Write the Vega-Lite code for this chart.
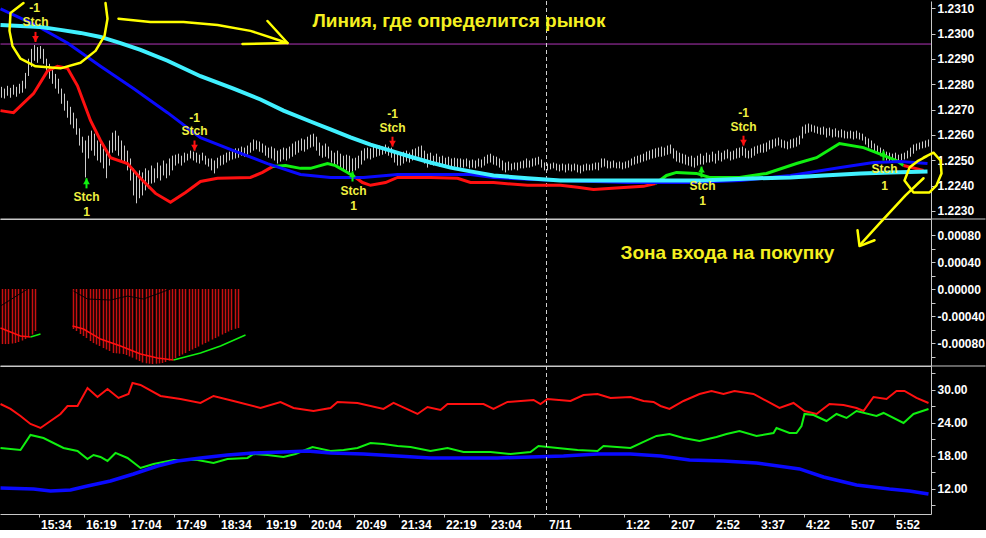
{
  "$schema": "https://vega.github.io/schema/vega-lite/v6.json",
  "description": "EUR/USD 3-min chart with moving averages, Stch signals, MACD-style histogram and ADX/DMI panel",
  "background": "#000000",
  "padding": 0,
  "spacing": 0,
  "bounds": "flush",
  "config": {
    "view": {"stroke": null},
    "axis": {"domainColor": "#c8c8c8", "tickColor": "#c8c8c8", "labelColor": "#ffffff", "labelFont": "Liberation Sans", "labelFontWeight": "bold", "labelFontSize": 12, "grid": false, "labelFlush": false, "labelOverlap": false, "labelBound": false}
  },
  "resolve": {"scale": {"x": "independent", "y": "independent"}},
  "datasets": {
    "bars": [
      {"m":1,"h":1.2279,"l":1.22747},{"m":4,"h":1.22783,"l":1.22744},{"m":7,"h":1.22794,"l":1.22755},{"m":10,"h":1.22786,"l":1.22747},
      {"m":13,"h":1.22798,"l":1.22759},{"m":16,"h":1.2279,"l":1.22751},{"m":19,"h":1.22802,"l":1.22763},{"m":22,"h":1.22814,"l":1.22767},
      {"m":25,"h":1.22845,"l":1.22783},{"m":28,"h":1.22901,"l":1.22833},{"m":31,"h":1.2294,"l":1.22869},{"m":34,"h":1.22955,"l":1.22893},
      {"m":37,"h":1.22947,"l":1.22885},{"m":40,"h":1.22951,"l":1.22901},{"m":43,"h":1.2294,"l":1.22881},{"m":46,"h":1.22901,"l":1.22845},
      {"m":49,"h":1.22881,"l":1.22822},{"m":52,"h":1.22862,"l":1.22802},{"m":55,"h":1.22841,"l":1.22783},{"m":58,"h":1.22822,"l":1.22763},
      {"m":61,"h":1.22783,"l":1.22723},{"m":64,"h":1.22763,"l":1.22696},{"m":67,"h":1.22735,"l":1.22668},{"m":70,"h":1.22711,"l":1.22641},
      {"m":73,"h":1.22688,"l":1.22626},{"m":76,"h":1.22665,"l":1.22601},{"m":79,"h":1.22626,"l":1.22558},{"m":82,"h":1.22593,"l":1.2253},
      {"m":85,"h":1.22578,"l":1.22432},{"m":88,"h":1.22597,"l":1.22507},{"m":91,"h":1.22617,"l":1.22538},{"m":94,"h":1.22605,"l":1.22518},
      {"m":97,"h":1.22578,"l":1.22499},{"m":100,"h":1.22566,"l":1.22491},{"m":103,"h":1.22547,"l":1.22468},{"m":106,"h":1.2253,"l":1.22429},
      {"m":109,"h":1.22578,"l":1.22479},{"m":112,"h":1.22609,"l":1.2253},{"m":115,"h":1.22617,"l":1.22538},{"m":118,"h":1.22597,"l":1.22518},
      {"m":121,"h":1.22578,"l":1.22499},{"m":124,"h":1.22558,"l":1.22487},{"m":127,"h":1.22538,"l":1.2246},{"m":130,"h":1.22507,"l":1.2242},
      {"m":133,"h":1.22468,"l":1.22361},{"m":136,"h":1.22452,"l":1.2233},{"m":139,"h":1.2246,"l":1.2235},{"m":142,"h":1.22452,"l":1.22361},
      {"m":145,"h":1.22468,"l":1.22381},{"m":148,"h":1.2246,"l":1.22389},{"m":151,"h":1.22479,"l":1.22408},{"m":154,"h":1.22468,"l":1.22412},
      {"m":157,"h":1.22491,"l":1.22429},{"m":160,"h":1.22479,"l":1.2242},{"m":163,"h":1.22499,"l":1.2244},{"m":166,"h":1.22487,"l":1.22429},
      {"m":169,"h":1.22507,"l":1.2244},{"m":172,"h":1.22518,"l":1.2246},{"m":175,"h":1.22522,"l":1.22479},{"m":178,"h":1.22526,"l":1.22487},
      {"m":181,"h":1.22518,"l":1.22479},{"m":184,"h":1.2253,"l":1.22491},{"m":187,"h":1.22526,"l":1.22499},{"m":190,"h":1.22538,"l":1.22507},
      {"m":193,"h":1.22534,"l":1.22499},{"m":196,"h":1.2253,"l":1.22491},{"m":199,"h":1.22522,"l":1.22487},{"m":202,"h":1.2253,"l":1.22499},
      {"m":205,"h":1.22518,"l":1.22483},{"m":208,"h":1.22507,"l":1.22475},{"m":211,"h":1.22507,"l":1.2246},{"m":214,"h":1.22499,"l":1.22448},
      {"m":217,"h":1.2251,"l":1.22468},{"m":220,"h":1.22518,"l":1.22479},{"m":223,"h":1.22522,"l":1.22483},{"m":226,"h":1.2253,"l":1.22491},
      {"m":229,"h":1.22534,"l":1.22499},{"m":232,"h":1.22538,"l":1.22503},{"m":235,"h":1.22547,"l":1.22507},{"m":238,"h":1.22547,"l":1.2251},
      {"m":241,"h":1.22554,"l":1.22518},{"m":244,"h":1.2255,"l":1.22514},{"m":247,"h":1.22558,"l":1.22522},{"m":250,"h":1.2257,"l":1.2253},
      {"m":253,"h":1.22582,"l":1.22538},{"m":256,"h":1.22578,"l":1.22543},{"m":259,"h":1.22574,"l":1.22534},{"m":262,"h":1.22566,"l":1.2253},
      {"m":265,"h":1.22558,"l":1.22518},{"m":268,"h":1.2255,"l":1.2251},{"m":271,"h":1.22554,"l":1.22507},{"m":274,"h":1.22547,"l":1.22499},
      {"m":277,"h":1.22538,"l":1.22487},{"m":280,"h":1.22543,"l":1.22495},{"m":283,"h":1.2255,"l":1.22503},{"m":286,"h":1.22547,"l":1.22499},
      {"m":289,"h":1.22554,"l":1.22507},{"m":292,"h":1.22566,"l":1.22514},{"m":295,"h":1.22574,"l":1.22522},{"m":298,"h":1.22578,"l":1.2253},
      {"m":301,"h":1.22586,"l":1.22538},{"m":304,"h":1.22582,"l":1.22534},{"m":307,"h":1.22593,"l":1.22543},{"m":310,"h":1.22601,"l":1.2255},
      {"m":313,"h":1.22605,"l":1.22554},{"m":316,"h":1.22593,"l":1.22538},{"m":319,"h":1.2257,"l":1.22518},{"m":322,"h":1.22558,"l":1.2251},
      {"m":325,"h":1.22566,"l":1.22514},{"m":328,"h":1.22554,"l":1.22507},{"m":331,"h":1.22538,"l":1.22491},{"m":334,"h":1.2253,"l":1.22479},
      {"m":337,"h":1.22538,"l":1.22483},{"m":340,"h":1.22526,"l":1.22468},{"m":343,"h":1.22518,"l":1.2246},{"m":346,"h":1.22522,"l":1.2246},
      {"m":349,"h":1.22518,"l":1.22452},{"m":352,"h":1.22507,"l":1.22456},{"m":355,"h":1.2251,"l":1.2246},{"m":358,"h":1.22518,"l":1.22468},
      {"m":361,"h":1.22538,"l":1.22483},{"m":364,"h":1.22547,"l":1.22499},{"m":367,"h":1.2255,"l":1.22507},{"m":370,"h":1.22547,"l":1.22503},
      {"m":373,"h":1.22554,"l":1.2251},{"m":376,"h":1.2255,"l":1.22514},{"m":379,"h":1.22558,"l":1.22518},{"m":382,"h":1.22554,"l":1.22522},
      {"m":385,"h":1.22562,"l":1.22526},{"m":388,"h":1.22554,"l":1.22518},{"m":391,"h":1.2255,"l":1.2251},{"m":394,"h":1.22538,"l":1.22491},
      {"m":397,"h":1.2253,"l":1.22479},{"m":400,"h":1.22526,"l":1.22479},{"m":403,"h":1.22534,"l":1.22487},{"m":406,"h":1.22538,"l":1.22495},
      {"m":409,"h":1.2253,"l":1.22491},{"m":412,"h":1.22543,"l":1.22499},{"m":415,"h":1.22547,"l":1.22507},{"m":418,"h":1.22554,"l":1.22514},
      {"m":421,"h":1.22558,"l":1.2251},{"m":424,"h":1.22538,"l":1.22487},{"m":427,"h":1.22526,"l":1.22471},{"m":430,"h":1.2253,"l":1.22483},
      {"m":433,"h":1.22518,"l":1.22479},{"m":436,"h":1.22526,"l":1.22487},{"m":439,"h":1.22514,"l":1.22475},{"m":442,"h":1.22518,"l":1.22479},
      {"m":445,"h":1.2251,"l":1.22475},{"m":448,"h":1.22514,"l":1.22479},{"m":451,"h":1.22507,"l":1.22471},{"m":454,"h":1.2251,"l":1.22475},
      {"m":457,"h":1.22507,"l":1.22471},{"m":460,"h":1.22507,"l":1.22471},{"m":463,"h":1.22503,"l":1.22471},{"m":466,"h":1.22507,"l":1.22475},
      {"m":469,"h":1.22499,"l":1.22468},{"m":472,"h":1.22503,"l":1.22471},{"m":475,"h":1.22499,"l":1.22468},{"m":478,"h":1.22507,"l":1.22475},
      {"m":481,"h":1.22503,"l":1.22471},{"m":484,"h":1.22514,"l":1.22479},{"m":487,"h":1.22522,"l":1.22487},{"m":490,"h":1.22526,"l":1.22491},
      {"m":493,"h":1.22518,"l":1.22483},{"m":496,"h":1.22514,"l":1.22479},{"m":499,"h":1.22507,"l":1.22471},{"m":502,"h":1.22499,"l":1.2246},
      {"m":505,"h":1.22491,"l":1.22452},{"m":508,"h":1.22495,"l":1.2246},{"m":511,"h":1.22487,"l":1.2246},{"m":514,"h":1.22491,"l":1.22464},
      {"m":517,"h":1.22491,"l":1.2246},{"m":520,"h":1.22495,"l":1.22468},{"m":523,"h":1.22499,"l":1.22468},{"m":526,"h":1.22507,"l":1.22471},
      {"m":529,"h":1.22499,"l":1.22471},{"m":532,"h":1.22507,"l":1.22475},{"m":535,"h":1.2251,"l":1.22479},{"m":538,"h":1.22514,"l":1.22483},
      {"m":541,"h":1.22503,"l":1.22471},{"m":544,"h":1.22491,"l":1.2246},{"m":547,"h":1.22487,"l":1.2246},{"m":550,"h":1.22487,"l":1.22464},
      {"m":553,"h":1.22491,"l":1.22468},{"m":556,"h":1.22487,"l":1.2246},{"m":559,"h":1.22483,"l":1.22456},{"m":562,"h":1.22487,"l":1.2246},
      {"m":565,"h":1.22483,"l":1.22452},{"m":568,"h":1.22487,"l":1.2246},{"m":571,"h":1.22483,"l":1.22456},{"m":574,"h":1.22487,"l":1.2246},
      {"m":577,"h":1.22483,"l":1.22452},{"m":580,"h":1.22479,"l":1.22448},{"m":583,"h":1.22483,"l":1.22456},{"m":586,"h":1.22487,"l":1.2246},
      {"m":589,"h":1.22483,"l":1.2246},{"m":592,"h":1.22487,"l":1.2246},{"m":595,"h":1.22491,"l":1.22464},{"m":598,"h":1.22491,"l":1.2246},
      {"m":601,"h":1.22507,"l":1.22471},{"m":604,"h":1.22507,"l":1.22475},{"m":607,"h":1.22499,"l":1.22468},{"m":610,"h":1.22495,"l":1.22468},
      {"m":613,"h":1.22499,"l":1.22471},{"m":616,"h":1.22491,"l":1.22468},{"m":619,"h":1.22495,"l":1.22468},{"m":622,"h":1.22491,"l":1.22464},
      {"m":625,"h":1.22495,"l":1.22468},{"m":628,"h":1.22499,"l":1.22471},{"m":631,"h":1.22507,"l":1.22479},{"m":634,"h":1.22514,"l":1.22483},
      {"m":637,"h":1.22518,"l":1.22487},{"m":640,"h":1.22522,"l":1.22491},{"m":643,"h":1.22526,"l":1.22495},{"m":646,"h":1.22534,"l":1.22499},
      {"m":649,"h":1.22538,"l":1.22503},{"m":652,"h":1.22543,"l":1.22507},{"m":655,"h":1.22547,"l":1.2251},{"m":658,"h":1.2255,"l":1.22514},
      {"m":661,"h":1.22554,"l":1.22514},{"m":664,"h":1.2255,"l":1.22518},{"m":667,"h":1.22558,"l":1.22522},{"m":670,"h":1.22562,"l":1.22526},
      {"m":673,"h":1.22547,"l":1.22507},{"m":676,"h":1.22538,"l":1.22495},{"m":679,"h":1.2253,"l":1.22491},{"m":682,"h":1.22526,"l":1.22487},
      {"m":685,"h":1.22522,"l":1.22483},{"m":688,"h":1.22514,"l":1.22479},{"m":691,"h":1.22518,"l":1.22475},{"m":694,"h":1.2251,"l":1.22471},
      {"m":697,"h":1.22518,"l":1.22479},{"m":700,"h":1.22526,"l":1.22483},{"m":703,"h":1.22518,"l":1.22483},{"m":706,"h":1.2253,"l":1.22491},
      {"m":709,"h":1.22522,"l":1.22491},{"m":712,"h":1.22534,"l":1.22495},{"m":715,"h":1.22526,"l":1.22487},{"m":718,"h":1.22538,"l":1.22499},
      {"m":721,"h":1.2253,"l":1.22495},{"m":724,"h":1.22538,"l":1.22503},{"m":727,"h":1.22543,"l":1.22507},{"m":730,"h":1.22534,"l":1.22499},
      {"m":733,"h":1.22538,"l":1.22503},{"m":736,"h":1.22547,"l":1.22507},{"m":739,"h":1.2255,"l":1.2251},{"m":742,"h":1.22554,"l":1.22518},
      {"m":745,"h":1.22547,"l":1.2251},{"m":748,"h":1.22538,"l":1.22507},{"m":751,"h":1.22547,"l":1.2251},{"m":754,"h":1.22554,"l":1.22518},
      {"m":757,"h":1.22558,"l":1.22526},{"m":760,"h":1.22562,"l":1.2253},{"m":763,"h":1.22566,"l":1.2253},{"m":766,"h":1.2257,"l":1.22534},
      {"m":769,"h":1.22578,"l":1.22543},{"m":772,"h":1.22582,"l":1.22547},{"m":775,"h":1.22586,"l":1.22554},{"m":778,"h":1.2259,"l":1.22558},
      {"m":781,"h":1.22582,"l":1.2255},{"m":784,"h":1.22578,"l":1.22547},{"m":787,"h":1.22574,"l":1.22543},{"m":790,"h":1.22582,"l":1.22547},
      {"m":793,"h":1.22586,"l":1.2255},{"m":796,"h":1.2259,"l":1.22554},{"m":799,"h":1.22597,"l":1.22562},{"m":802,"h":1.22633,"l":1.22586},
      {"m":805,"h":1.22641,"l":1.22605},{"m":808,"h":1.22645,"l":1.22609},{"m":811,"h":1.22641,"l":1.22613},{"m":814,"h":1.22637,"l":1.22609},
      {"m":817,"h":1.22633,"l":1.22605},{"m":820,"h":1.22629,"l":1.22601},{"m":823,"h":1.22633,"l":1.22601},{"m":826,"h":1.22626,"l":1.2259},
      {"m":829,"h":1.22629,"l":1.22597},{"m":832,"h":1.22622,"l":1.2259},{"m":835,"h":1.22626,"l":1.22593},{"m":838,"h":1.22617,"l":1.2259},
      {"m":841,"h":1.22622,"l":1.2259},{"m":844,"h":1.22617,"l":1.22586},{"m":847,"h":1.22613,"l":1.22586},{"m":850,"h":1.22617,"l":1.22586},
      {"m":853,"h":1.22613,"l":1.22582},{"m":856,"h":1.22617,"l":1.22586},{"m":859,"h":1.22609,"l":1.22582},{"m":862,"h":1.22605,"l":1.22578},
      {"m":865,"h":1.22593,"l":1.22562},{"m":868,"h":1.22586,"l":1.2255},{"m":871,"h":1.22578,"l":1.22547},{"m":874,"h":1.22566,"l":1.2253},
      {"m":877,"h":1.22558,"l":1.22526},{"m":880,"h":1.2255,"l":1.22518},{"m":883,"h":1.22543,"l":1.2251},{"m":886,"h":1.22534,"l":1.22499},
      {"m":889,"h":1.2253,"l":1.22495},{"m":892,"h":1.22526,"l":1.22491},{"m":895,"h":1.2253,"l":1.22499},{"m":898,"h":1.22522,"l":1.22495},
      {"m":901,"h":1.22526,"l":1.22499},{"m":904,"h":1.2253,"l":1.22503},{"m":907,"h":1.22538,"l":1.22507},{"m":910,"h":1.2255,"l":1.22514},
      {"m":913,"h":1.22562,"l":1.22526},{"m":916,"h":1.22566,"l":1.22538},{"m":919,"h":1.2257,"l":1.22543},{"m":922,"h":1.22574,"l":1.22547},
      {"m":925,"h":1.22578,"l":1.2255},{"m":928,"h":1.22582,"l":1.22554}
    ],
    "ma": [
      {"s":"cyan","m":0,"p":1.23034},{"s":"cyan","m":20,"p":1.2303},{"s":"cyan","m":40,"p":1.23026},{"s":"cyan","m":60,"p":1.23015},
      {"s":"cyan","m":80,"p":1.23003},{"s":"cyan","m":100,"p":1.22987},{"s":"cyan","m":120,"p":1.22963},{"s":"cyan","m":140,"p":1.22936},
      {"s":"cyan","m":167,"p":1.22893},{"s":"cyan","m":200,"p":1.22832},{"s":"cyan","m":233,"p":1.22783},{"s":"cyan","m":260,"p":1.2274},
      {"s":"cyan","m":283,"p":1.22696},{"s":"cyan","m":310,"p":1.22653},{"s":"cyan","m":330,"p":1.22622},{"s":"cyan","m":350,"p":1.2259},
      {"s":"cyan","m":370,"p":1.22562},{"s":"cyan","m":390,"p":1.22538},{"s":"cyan","m":410,"p":1.22514},{"s":"cyan","m":430,"p":1.22491},
      {"s":"cyan","m":450,"p":1.22471},{"s":"cyan","m":470,"p":1.22456},{"s":"cyan","m":493,"p":1.2244},{"s":"cyan","m":527,"p":1.22429},
      {"s":"cyan","m":560,"p":1.2242},{"s":"cyan","m":600,"p":1.2242},{"s":"cyan","m":650,"p":1.2242},{"s":"cyan","m":700,"p":1.2242},
      {"s":"cyan","m":757,"p":1.22429},{"s":"cyan","m":790,"p":1.22432},{"s":"cyan","m":823,"p":1.2244},{"s":"cyan","m":860,"p":1.22448},
      {"s":"cyan","m":890,"p":1.22452},{"s":"cyan","m":927,"p":1.22456},
      {"s":"blue","m":0,"p":1.23098},{"s":"blue","m":33,"p":1.23038},{"s":"blue","m":67,"p":1.22963},{"s":"blue","m":100,"p":1.22871},
      {"s":"blue","m":133,"p":1.22783},{"s":"blue","m":167,"p":1.22688},{"s":"blue","m":200,"p":1.22589},{"s":"blue","m":233,"p":1.22538},
      {"s":"blue","m":267,"p":1.22487},{"s":"blue","m":300,"p":1.22444},{"s":"blue","m":330,"p":1.22432},{"s":"blue","m":363,"p":1.22432},
      {"s":"blue","m":397,"p":1.22444},{"s":"blue","m":430,"p":1.22444},{"s":"blue","m":470,"p":1.22444},{"s":"blue","m":493,"p":1.22432},
      {"s":"blue","m":527,"p":1.22425},{"s":"blue","m":560,"p":1.2242},{"s":"blue","m":627,"p":1.22412},{"s":"blue","m":690,"p":1.22412},
      {"s":"blue","m":740,"p":1.2242},{"s":"blue","m":790,"p":1.2244},{"s":"blue","m":840,"p":1.22471},{"s":"blue","m":873,"p":1.22491},
      {"s":"blue","m":900,"p":1.22495},{"s":"blue","m":927,"p":1.22487}
    ],
    "rg": [
      {"g":"r1","c":"r","m":0,"p":1.22696},{"g":"r1","c":"r","m":13,"p":1.22688},{"g":"r1","c":"r","m":33,"p":1.22763},{"g":"r1","c":"r","m":47,"p":1.22853},
      {"g":"r1","c":"r","m":57,"p":1.22871},{"g":"r1","c":"r","m":67,"p":1.22863},{"g":"r1","c":"r","m":77,"p":1.22794},{"g":"r1","c":"r","m":90,"p":1.22657},
      {"g":"r1","c":"r","m":100,"p":1.22578},{"g":"r1","c":"r","m":110,"p":1.2251},{"g":"r1","c":"r","m":127,"p":1.22487},{"g":"r1","c":"r","m":140,"p":1.22429},
      {"g":"r1","c":"r","m":155,"p":1.22369},{"g":"r1","c":"r","m":170,"p":1.22334},{"g":"r1","c":"r","m":185,"p":1.22373},{"g":"r1","c":"r","m":200,"p":1.22416},
      {"g":"r1","c":"r","m":217,"p":1.22429},{"g":"r1","c":"r","m":250,"p":1.22432},{"g":"r1","c":"r","m":262,"p":1.22452},{"g":"r1","c":"r","m":272,"p":1.22475},
      {"g":"g1","c":"g","m":272,"p":1.22475},{"g":"g1","c":"g","m":285,"p":1.22479},{"g":"g1","c":"g","m":300,"p":1.22468},{"g":"g1","c":"g","m":310,"p":1.22468},
      {"g":"g1","c":"g","m":327,"p":1.22487},{"g":"g1","c":"g","m":335,"p":1.22479},{"g":"g1","c":"g","m":347,"p":1.22452},{"g":"g1","c":"g","m":355,"p":1.22432},
      {"g":"r2","c":"r","m":355,"p":1.22432},{"g":"r2","c":"r","m":362,"p":1.22412},{"g":"r2","c":"r","m":370,"p":1.22401},{"g":"r2","c":"r","m":385,"p":1.22412},
      {"g":"r2","c":"r","m":397,"p":1.22432},{"g":"r2","c":"r","m":430,"p":1.22432},{"g":"r2","c":"r","m":457,"p":1.22429},{"g":"r2","c":"r","m":470,"p":1.22412},
      {"g":"r2","c":"r","m":493,"p":1.22412},{"g":"r2","c":"r","m":527,"p":1.22401},{"g":"r2","c":"r","m":560,"p":1.22401},{"g":"r2","c":"r","m":577,"p":1.22393},
      {"g":"r2","c":"r","m":593,"p":1.22385},{"g":"r2","c":"r","m":627,"p":1.22393},{"g":"r2","c":"r","m":643,"p":1.22397},{"g":"r2","c":"r","m":655,"p":1.22408},
      {"g":"g2","c":"g","m":655,"p":1.22408},{"g":"g2","c":"g","m":666,"p":1.2244},{"g":"g2","c":"g","m":676,"p":1.22452},{"g":"g2","c":"g","m":696,"p":1.22448},
      {"g":"g2","c":"g","m":709,"p":1.22432},{"g":"g2","c":"g","m":739,"p":1.22432},{"g":"g2","c":"g","m":766,"p":1.22448},{"g":"g2","c":"g","m":796,"p":1.22487},
      {"g":"g2","c":"g","m":816,"p":1.2251},{"g":"g2","c":"g","m":839,"p":1.22566},{"g":"g2","c":"g","m":863,"p":1.2255},{"g":"g2","c":"g","m":876,"p":1.2253},
      {"g":"g2","c":"g","m":896,"p":1.22499},{"g":"g2","c":"g","m":903,"p":1.22479},
      {"g":"r3","c":"r","m":903,"p":1.22479},{"g":"r3","c":"r","m":923,"p":1.2246}
    ],
    "sig": [
      {"m":35,"tip":1.22967,"tail":1.23007,"c":"r"},{"m":194,"tip":1.22538,"tail":1.22578,"c":"r"},
      {"m":392,"tip":1.22554,"tail":1.22593,"c":"r"},{"m":743,"tip":1.22558,"tail":1.22597,"c":"r"},
      {"m":86,"tip":1.22429,"tail":1.22389,"c":"g"},{"m":352,"tip":1.22456,"tail":1.22416,"c":"g"},
      {"m":701,"tip":1.22475,"tail":1.22432,"c":"g"},{"m":883,"tip":1.22538,"tail":1.22499,"c":"g"}
    ],
    "lbl": [
      {"m":34,"p":1.23101,"t":"-1"},{"m":35,"p":1.23046,"t":"Stch"},
      {"m":194,"p":1.22668,"t":"-1"},{"m":194,"p":1.22617,"t":"Stch"},
      {"m":392,"p":1.22684,"t":"-1"},{"m":392,"p":1.22629,"t":"Stch"},
      {"m":743,"p":1.22688,"t":"-1"},{"m":743,"p":1.22633,"t":"Stch"},
      {"m":86,"p":1.22353,"t":"Stch"},{"m":86,"p":1.22294,"t":"1"},
      {"m":353,"p":1.22377,"t":"Stch"},{"m":353,"p":1.22318,"t":"1"},
      {"m":702,"p":1.22397,"t":"Stch"},{"m":702,"p":1.22338,"t":"1"},
      {"m":884,"p":1.22464,"t":"Stch"},{"m":884,"p":1.22397,"t":"1"}
    ],
    "ink": [
      {"s":"c1","o":1,"m":23,"p":1.23121},{"s":"c1","o":2,"m":10,"p":1.23082},{"s":"c1","o":3,"m":9,"p":1.23011},{"s":"c1","o":4,"m":12,"p":1.22951},
      {"s":"c1","o":5,"m":20,"p":1.22901},{"s":"c1","o":6,"m":35,"p":1.22871},{"s":"c1","o":7,"m":60,"p":1.22863},{"s":"c1","o":8,"m":80,"p":1.22885},
      {"s":"c1","o":9,"m":95,"p":1.22932},{"s":"c1","o":10,"m":104,"p":1.22991},{"s":"c1","o":11,"m":107,"p":1.23059},{"s":"c1","o":12,"m":105,"p":1.23121},
      {"s":"a1","o":1,"m":118,"p":1.23059},{"s":"a1","o":2,"m":150,"p":1.23046},{"s":"a1","o":3,"m":183,"p":1.23046},{"s":"a1","o":4,"m":217,"p":1.23034},
      {"s":"a1","o":5,"m":250,"p":1.23011},{"s":"a1","o":6,"m":287,"p":1.22963},
      {"s":"a1h","o":1,"m":267,"p":1.2305},{"s":"a1h","o":2,"m":287,"p":1.22963},{"s":"a1h","o":3,"m":242,"p":1.22959},
      {"s":"c2","o":1,"m":923,"p":1.2251},{"s":"c2","o":2,"m":933,"p":1.2253},{"s":"c2","o":3,"m":940,"p":1.22499},{"s":"c2","o":4,"m":941,"p":1.22448},
      {"s":"c2","o":5,"m":936,"p":1.22401},{"s":"c2","o":6,"m":929,"p":1.22373},{"s":"c2","o":7,"m":913,"p":1.22373},{"s":"c2","o":8,"m":904,"p":1.2242},
      {"s":"c2","o":9,"m":909,"p":1.22471},{"s":"c2","o":10,"m":918,"p":1.22499},{"s":"c2","o":11,"m":926,"p":1.22515},
      {"s":"a2","o":1,"m":923,"p":1.22429},{"s":"a2","o":2,"m":905,"p":1.22361},{"s":"a2","o":3,"m":880,"p":1.22255},{"s":"a2","o":4,"m":860,"p":1.22168},
      {"s":"a2h","o":1,"m":857,"p":1.22224},{"s":"a2h","o":2,"m":859,"p":1.22161},{"s":"a2h","o":3,"m":874,"p":1.22184}
    ],
    "hist": [
      {"m":2,"v":-0.000815},{"m":5,"v":-0.000815},{"m":8,"v":-0.000815},{"m":12,"v":-0.000807},{"m":15,"v":-0.0008},{"m":18,"v":-0.000785},
      {"m":22,"v":-0.000763},{"m":25,"v":-0.000741},{"m":28,"v":-0.000711},{"m":32,"v":-0.000674},{"m":35,"v":-0.000622},
      {"m":73,"v":-0.000592},{"m":76,"v":-0.000622},{"m":80,"v":-0.000666},{"m":83,"v":-0.000696},{"m":86,"v":-0.000726},{"m":90,"v":-0.00077},
      {"m":93,"v":-0.0008},{"m":96,"v":-0.000822},{"m":99,"v":-0.000844},{"m":103,"v":-0.000874},{"m":106,"v":-0.000896},{"m":109,"v":-0.000918},
      {"m":113,"v":-0.000948},{"m":116,"v":-0.000952},{"m":119,"v":-0.000957},{"m":123,"v":-0.000963},{"m":126,"v":-0.000977},{"m":129,"v":-0.000998},
      {"m":132,"v":-0.001016},{"m":136,"v":-0.001044},{"m":139,"v":-0.001066},{"m":142,"v":-0.001089},{"m":146,"v":-0.0011},{"m":149,"v":-0.001105},
      {"m":152,"v":-0.001111},{"m":156,"v":-0.001106},{"m":159,"v":-0.001102},{"m":162,"v":-0.001096},{"m":165,"v":-0.001081},{"m":169,"v":-0.00106},
      {"m":172,"v":-0.001043},{"m":175,"v":-0.001022},{"m":179,"v":-0.000992},{"m":182,"v":-0.00097},{"m":185,"v":-0.000948},{"m":189,"v":-0.000918},
      {"m":192,"v":-0.000896},{"m":195,"v":-0.000874},{"m":198,"v":-0.000852},{"m":202,"v":-0.000822},{"m":205,"v":-0.0008},{"m":208,"v":-0.000778},
      {"m":212,"v":-0.000748},{"m":215,"v":-0.000726},{"m":218,"v":-0.000703},{"m":222,"v":-0.000674},{"m":225,"v":-0.000652},{"m":228,"v":-0.000629},
      {"m":231,"v":-0.000607},{"m":235,"v":-0.000589},{"m":238,"v":-0.000578}
    ],
    "blk": [
      {"g":"L","m":0,"v":-0.000252},{"g":"L","m":27,"v":0},
      {"g":"R","m":73,"v":-0.00003},{"g":"R","m":87,"v":-0.000148},{"g":"R","m":110,"v":-0.000163},{"g":"R","m":127,"v":-0.000104},
      {"g":"R","m":143,"v":-0.000148},{"g":"R","m":170,"v":0}
    ],
    "sigm": [
      {"g":"L1","c":"r","m":0,"v":-0.000578},{"g":"L1","c":"r","m":10,"v":-0.000637},{"g":"L1","c":"r","m":20,"v":-0.000696},{"g":"L1","c":"r","m":30,"v":-0.000711},
      {"g":"L2","c":"g","m":30,"v":-0.000711},{"g":"L2","c":"g","m":40,"v":-0.000666},
      {"g":"R1","c":"r","m":72,"v":-0.000548},{"g":"R1","c":"r","m":83,"v":-0.000592},{"g":"R1","c":"r","m":100,"v":-0.000741},{"g":"R1","c":"r","m":120,"v":-0.000844},
      {"g":"R1","c":"r","m":140,"v":-0.000963},{"g":"R1","c":"r","m":157,"v":-0.001022},{"g":"R1","c":"r","m":173,"v":-0.001052},
      {"g":"R2","c":"g","m":173,"v":-0.001052},{"g":"R2","c":"g","m":200,"v":-0.000948},{"g":"R2","c":"g","m":220,"v":-0.000844},{"g":"R2","c":"g","m":245,"v":-0.000681}
    ],
    "osc": [
      {"s":"red","m":0,"v":27.45},{"s":"red","m":10,"v":26.55},{"s":"red","m":20,"v":25.27},{"s":"red","m":30,"v":23.82},{"s":"red","m":40,"v":23.09},
      {"s":"red","m":50,"v":24.36},{"s":"red","m":60,"v":25.64},{"s":"red","m":67,"v":27.09},{"s":"red","m":77,"v":27.09},{"s":"red","m":87,"v":30.36},
      {"s":"red","m":97,"v":28.73},{"s":"red","m":107,"v":30.18},{"s":"red","m":118,"v":28.55},{"s":"red","m":128,"v":29.27},{"s":"red","m":132,"v":31.27},
      {"s":"red","m":140,"v":30.91},{"s":"red","m":160,"v":28.91},{"s":"red","m":180,"v":28.36},{"s":"red","m":200,"v":27.64},{"s":"red","m":213,"v":28.91},
      {"s":"red","m":233,"v":28.0},{"s":"red","m":260,"v":26.73},{"s":"red","m":280,"v":27.82},{"s":"red","m":293,"v":26.73},{"s":"red","m":313,"v":26.18},
      {"s":"red","m":330,"v":26.73},{"s":"red","m":337,"v":27.82},{"s":"red","m":357,"v":27.64},{"s":"red","m":383,"v":26.55},{"s":"red","m":393,"v":27.64},
      {"s":"red","m":417,"v":25.64},{"s":"red","m":427,"v":26.91},{"s":"red","m":440,"v":26.36},{"s":"red","m":447,"v":27.45},{"s":"red","m":483,"v":27.45},
      {"s":"red","m":493,"v":26.55},{"s":"red","m":507,"v":27.82},{"s":"red","m":533,"v":28.18},{"s":"red","m":540,"v":27.45},{"s":"red","m":547,"v":28.36},
      {"s":"red","m":570,"v":28.0},{"s":"red","m":583,"v":29.09},{"s":"red","m":597,"v":29.27},{"s":"red","m":610,"v":28.55},{"s":"red","m":630,"v":28.73},
      {"s":"red","m":643,"v":28.0},{"s":"red","m":653,"v":27.82},{"s":"red","m":660,"v":27.09},{"s":"red","m":669,"v":26.55},{"s":"red","m":683,"v":28.0},
      {"s":"red","m":699,"v":29.27},{"s":"red","m":711,"v":29.82},{"s":"red","m":723,"v":29.27},{"s":"red","m":734,"v":29.82},{"s":"red","m":753,"v":29.27},
      {"s":"red","m":766,"v":28.0},{"s":"red","m":779,"v":26.73},{"s":"red","m":793,"v":27.64},{"s":"red","m":804,"v":26.18},{"s":"red","m":816,"v":25.64},
      {"s":"red","m":829,"v":27.45},{"s":"red","m":843,"v":27.27},{"s":"red","m":856,"v":26.73},{"s":"red","m":863,"v":26.18},{"s":"red","m":873,"v":28.73},
      {"s":"red","m":886,"v":28.36},{"s":"red","m":896,"v":29.82},{"s":"red","m":904,"v":29.82},{"s":"red","m":916,"v":28.55},{"s":"red","m":928,"v":27.64},
      {"s":"green","m":0,"v":19.45},{"s":"green","m":20,"v":19.09},{"s":"green","m":30,"v":21.82},{"s":"green","m":43,"v":21.27},{"s":"green","m":63,"v":19.45},
      {"s":"green","m":77,"v":18.91},{"s":"green","m":87,"v":17.45},{"s":"green","m":93,"v":18.18},{"s":"green","m":100,"v":17.82},{"s":"green","m":107,"v":17.09},
      {"s":"green","m":115,"v":18.55},{"s":"green","m":127,"v":17.64},{"s":"green","m":140,"v":15.82},{"s":"green","m":153,"v":16.55},{"s":"green","m":173,"v":17.27},
      {"s":"green","m":197,"v":17.27},{"s":"green","m":213,"v":16.73},{"s":"green","m":227,"v":17.45},{"s":"green","m":247,"v":17.64},{"s":"green","m":253,"v":18.36},
      {"s":"green","m":267,"v":18.18},{"s":"green","m":283,"v":17.82},{"s":"green","m":295,"v":18.36},{"s":"green","m":312,"v":19.64},{"s":"green","m":330,"v":18.91},
      {"s":"green","m":343,"v":19.09},{"s":"green","m":357,"v":19.45},{"s":"green","m":370,"v":20.36},{"s":"green","m":383,"v":20.18},{"s":"green","m":397,"v":19.82},
      {"s":"green","m":410,"v":19.64},{"s":"green","m":430,"v":18.91},{"s":"green","m":447,"v":19.45},{"s":"green","m":463,"v":18.73},{"s":"green","m":490,"v":18.73},
      {"s":"green","m":510,"v":18.36},{"s":"green","m":530,"v":18.73},{"s":"green","m":538,"v":19.82},{"s":"green","m":557,"v":19.45},{"s":"green","m":577,"v":19.09},
      {"s":"green","m":597,"v":18.91},{"s":"green","m":603,"v":19.82},{"s":"green","m":630,"v":19.45},{"s":"green","m":643,"v":20.55},{"s":"green","m":656,"v":21.64},
      {"s":"green","m":669,"v":22.0},{"s":"green","m":683,"v":21.27},{"s":"green","m":699,"v":20.73},{"s":"green","m":716,"v":21.45},{"s":"green","m":726,"v":22.0},
      {"s":"green","m":739,"v":22.55},{"s":"green","m":756,"v":21.64},{"s":"green","m":773,"v":22.18},{"s":"green","m":776,"v":23.09},{"s":"green","m":789,"v":22.18},
      {"s":"green","m":796,"v":22.18},{"s":"green","m":801,"v":23.45},{"s":"green","m":804,"v":25.64},{"s":"green","m":813,"v":25.45},{"s":"green","m":826,"v":24.36},
      {"s":"green","m":836,"v":25.64},{"s":"green","m":846,"v":24.91},{"s":"green","m":856,"v":26.18},{"s":"green","m":876,"v":25.27},{"s":"green","m":883,"v":25.82},
      {"s":"green","m":903,"v":24.0},{"s":"green","m":913,"v":25.64},{"s":"green","m":928,"v":26.55},
      {"s":"blue","m":0,"v":12.18},{"s":"blue","m":33,"v":12.0},{"s":"blue","m":50,"v":11.64},{"s":"blue","m":70,"v":11.82},{"s":"blue","m":87,"v":12.55},
      {"s":"blue","m":110,"v":13.45},{"s":"blue","m":133,"v":14.73},{"s":"blue","m":157,"v":16.18},{"s":"blue","m":177,"v":17.09},{"s":"blue","m":200,"v":17.64},
      {"s":"blue","m":227,"v":18.18},{"s":"blue","m":253,"v":18.55},{"s":"blue","m":283,"v":18.73},{"s":"blue","m":307,"v":18.91},{"s":"blue","m":330,"v":18.55},
      {"s":"blue","m":363,"v":18.36},{"s":"blue","m":397,"v":18.0},{"s":"blue","m":430,"v":17.64},{"s":"blue","m":497,"v":17.64},{"s":"blue","m":530,"v":17.82},
      {"s":"blue","m":563,"v":18.0},{"s":"blue","m":597,"v":18.36},{"s":"blue","m":630,"v":18.36},{"s":"blue","m":660,"v":18.0},{"s":"blue","m":689,"v":17.27},
      {"s":"blue","m":723,"v":17.09},{"s":"blue","m":756,"v":16.73},{"s":"blue","m":799,"v":15.64},{"s":"blue","m":823,"v":14.18},{"s":"blue","m":856,"v":12.73},
      {"s":"blue","m":889,"v":12.0},{"s":"blue","m":909,"v":11.64},{"s":"blue","m":928,"v":11.09}
    ]
  },
  "vconcat": [
    {
      "width": 931,
      "height": 218,
      "encoding": {
        "x": {"field": "m", "type": "quantitative", "title": null, "scale": {"domain": [-0.5, 930.5], "nice": false, "zero": false}, "axis": {"labels": false, "ticks": false, "domain": true}}
      },
      "layer": [
        {
          "data": {"name": "bars"},
          "mark": {"type": "rule", "color": "#cccccc", "strokeWidth": 1},
          "encoding": {
            "y": {"field": "h", "type": "quantitative", "title": null, "scale": {"domain": [1.22268, 1.23129], "nice": false, "zero": false},
                  "axis": {"orient": "right", "values": [1.223, 1.224, 1.225, 1.226, 1.227, 1.228, 1.229, 1.23, 1.231], "tickCount": 100, "format": ".4f", "tickSize": 4, "labelPadding": 2, "labelOverlap": false}},
            "y2": {"field": "l"}
          }
        },
        {
          "data": {"values": [{"m": 0, "m2": 985}]},
          "mark": {"type": "rule", "color": "#c8c8c8", "strokeWidth": 1, "clip": false},
          "encoding": {"x2": {"field": "m2"}, "y": {"datum": 1.22268}}
        },
        {
          "data": {"values": [{"m": 0, "p": 1.22959}, {"m": 931, "p": 1.22959}]},
          "mark": {"type": "line", "color": "#b035b8", "strokeWidth": 1, "clip": true},
          "encoding": {"y": {"field": "p", "type": "quantitative", "title": null}}
        },
        {
          "data": {"values": [{"m": 546}]},
          "mark": {"type": "rule", "color": "#d0d0d0", "strokeDash": [4, 3], "strokeWidth": 1},
          "encoding": {}
        },
        {
          "data": {"name": "rg"},
          "mark": {"type": "line", "strokeWidth": 3, "clip": true},
          "encoding": {
            "y": {"field": "p", "type": "quantitative", "title": null},
            "color": {"field": "c", "type": "nominal", "scale": {"domain": ["r", "g"], "range": ["#ff1010", "#10f010"]}, "legend": null},
            "detail": {"field": "g"}
          }
        },
        {
          "data": {"name": "ma"},
          "transform": [{"filter": "datum.s == 'blue'"}],
          "mark": {"type": "line", "color": "#0a0aff", "strokeWidth": 3, "clip": true},
          "encoding": {"y": {"field": "p", "type": "quantitative", "title": null}}
        },
        {
          "data": {"name": "ma"},
          "transform": [{"filter": "datum.s == 'cyan'"}],
          "mark": {"type": "line", "color": "#40f0ff", "strokeWidth": 4, "clip": true},
          "encoding": {"y": {"field": "p", "type": "quantitative", "title": null}}
        },
        {
          "data": {"name": "sig"},
          "mark": {"type": "rule", "strokeWidth": 2},
          "encoding": {
            "y": {"field": "tail", "type": "quantitative", "title": null},
            "y2": {"field": "tip"},
            "color": {"field": "c", "type": "nominal", "legend": null}
          }
        },
        {
          "data": {"name": "sig"},
          "transform": [{"filter": "datum.c == 'r'"}],
          "mark": {"type": "point", "shape": "triangle-down", "filled": true, "opacity": 1, "size": 45, "color": "#ff1010", "yOffset": -3},
          "encoding": {"y": {"field": "tip", "type": "quantitative", "title": null}}
        },
        {
          "data": {"name": "sig"},
          "transform": [{"filter": "datum.c == 'g'"}],
          "mark": {"type": "point", "shape": "triangle-up", "filled": true, "opacity": 1, "size": 45, "color": "#10f010", "yOffset": 3},
          "encoding": {"y": {"field": "tip", "type": "quantitative", "title": null}}
        },
        {
          "data": {"name": "lbl"},
          "mark": {"type": "text", "color": "#f0f040", "font": "Liberation Sans", "fontWeight": "bold", "fontSize": 12, "align": "center", "baseline": "middle"},
          "encoding": {"y": {"field": "p", "type": "quantitative", "title": null}, "text": {"field": "t"}}
        },
        {
          "data": {"values": [{"m": 312, "p": 1.2305, "t": "Линия, где определится рынок"}]},
          "mark": {"type": "text", "color": "#f5f020", "font": "Liberation Sans", "fontWeight": "bold", "fontSize": 19, "align": "left", "baseline": "middle"},
          "encoding": {"y": {"field": "p", "type": "quantitative", "title": null}, "text": {"field": "t"}}
        },
        {
          "data": {"name": "ink"},
          "mark": {"type": "line", "color": "#ffff00", "strokeWidth": 2.5, "clip": false, "strokeCap": "round", "strokeJoin": "round"},
          "encoding": {
            "y": {"field": "p", "type": "quantitative", "title": null},
            "detail": {"field": "s"},
            "order": {"field": "o"}
          }
        }
      ]
    },
    {
      "width": 931,
      "height": 147,
      "encoding": {
        "x": {"field": "m", "type": "quantitative", "title": null, "scale": {"domain": [-0.5, 930.5], "nice": false, "zero": false}, "axis": {"labels": false, "ticks": false, "domain": true}}
      },
      "layer": [
        {
          "data": {"name": "hist"},
          "mark": {"type": "rule", "color": "#c81010", "strokeWidth": 1.5},
          "encoding": {
            "y": {"field": "v", "type": "quantitative", "title": null, "scale": {"domain": [-0.00114, 0.001037], "nice": false, "zero": false},
                  "axis": {"orient": "right", "values": [-0.001, -0.0008, -0.0006, -0.0004, -0.0002, 0, 0.0002, 0.0004, 0.0006, 0.0008], "tickCount": 100,
                           "labelExpr": "abs(datum.value / 0.0004 - round(datum.value / 0.0004)) < 0.01 ? replace(format(datum.value, '.5f'), '\u2212', '-') : ''",
                           "tickSize": 4, "labelPadding": 2, "labelOverlap": false}},
            "y2": {"datum": 0}
          }
        },
        {
          "data": {"values": [{"m": 0, "m2": 985}]},
          "mark": {"type": "rule", "color": "#c8c8c8", "strokeWidth": 1, "clip": false},
          "encoding": {"x2": {"field": "m2"}, "y": {"datum": -0.00114}}
        },
        {
          "data": {"name": "blk"},
          "mark": {"type": "line", "color": "#000000", "strokeWidth": 1, "clip": true},
          "encoding": {"y": {"field": "v", "type": "quantitative", "title": null}, "detail": {"field": "g"}}
        },
        {
          "data": {"name": "sigm"},
          "mark": {"type": "line", "strokeWidth": 1.5, "clip": true},
          "encoding": {
            "y": {"field": "v", "type": "quantitative", "title": null},
            "color": {"field": "c", "type": "nominal", "scale": {"domain": ["r", "g"], "range": ["#ff1010", "#10f010"]}, "legend": null},
            "detail": {"field": "g"}
          }
        },
        {
          "data": {"values": [{"m": 546}]},
          "mark": {"type": "rule", "color": "#d0d0d0", "strokeDash": [4, 3], "strokeWidth": 1},
          "encoding": {}
        },
        {
          "data": {"values": [{"m": 620, "v": 0.000533, "t": "Зона входа на покупку"}]},
          "mark": {"type": "text", "color": "#f5f020", "font": "Liberation Sans", "fontWeight": "bold", "fontSize": 19, "align": "left", "baseline": "middle"},
          "encoding": {"y": {"field": "v", "type": "quantitative", "title": null}, "text": {"field": "t"}}
        }
      ]
    },
    {
      "width": 931,
      "height": 148,
      "encoding": {
        "x": {
          "field": "m", "type": "quantitative", "title": null, "scale": {"domain": [-0.5, 930.5], "nice": false, "zero": false},
          "axis": {
            "values": [38, 83, 128, 173, 218, 263, 308, 353, 398, 443, 488, 533, 546, 578, 623, 668, 713, 758, 803, 848, 893], "tickCount": 100,
            "labelExpr": "['15:34','16:19','17:04','17:49','18:34','19:19','20:04','20:49','21:34','22:19','23:04','','7/11','','1:22','2:07','2:52','3:37','4:22','5:07','5:52'][indexof([38,83,128,173,218,263,308,353,398,443,488,533,546,578,623,668,713,758,803,848,893], datum.value)]",
            "labelAlign": "left", "labelOffset": 2, "tickSize": 3, "labelPadding": 2, "labelOverlap": false,
            "tickColor": {"condition": {"test": "datum.value == 546", "value": "transparent"}, "value": "#c8c8c8"}
          }
        }
      },
      "layer": [
        {
          "data": {"name": "osc"},
          "transform": [{"filter": "datum.s != 'blue'"}],
          "mark": {"type": "line", "strokeWidth": 2, "clip": true},
          "encoding": {
            "y": {"field": "v", "type": "quantitative", "title": null, "scale": {"domain": [7.45, 34.36], "nice": false, "zero": false},
                  "axis": {"orient": "right", "values": [9, 12, 15, 18, 21, 24, 27, 30, 33], "tickCount": 100, "labelExpr": "datum.value % 6 == 0 ? format(datum.value, '.2f') : ''", "tickSize": 4, "labelPadding": 2, "labelOverlap": false}},
            "color": {"field": "s", "type": "nominal", "scale": {"domain": ["red", "green"], "range": ["#ff1010", "#10ee10"]}, "legend": null},
            "detail": {"field": "s"}
          }
        },
        {
          "data": {"name": "osc"},
          "transform": [{"filter": "datum.s == 'blue'"}],
          "mark": {"type": "line", "color": "#0a0aff", "strokeWidth": 3.5, "clip": true},
          "encoding": {"y": {"field": "v", "type": "quantitative", "title": null}}
        },
        {
          "data": {"values": [{"m": 546}]},
          "mark": {"type": "rule", "color": "#d0d0d0", "strokeDash": [4, 3], "strokeWidth": 1},
          "encoding": {}
        }
      ]
    }
  ]
}
